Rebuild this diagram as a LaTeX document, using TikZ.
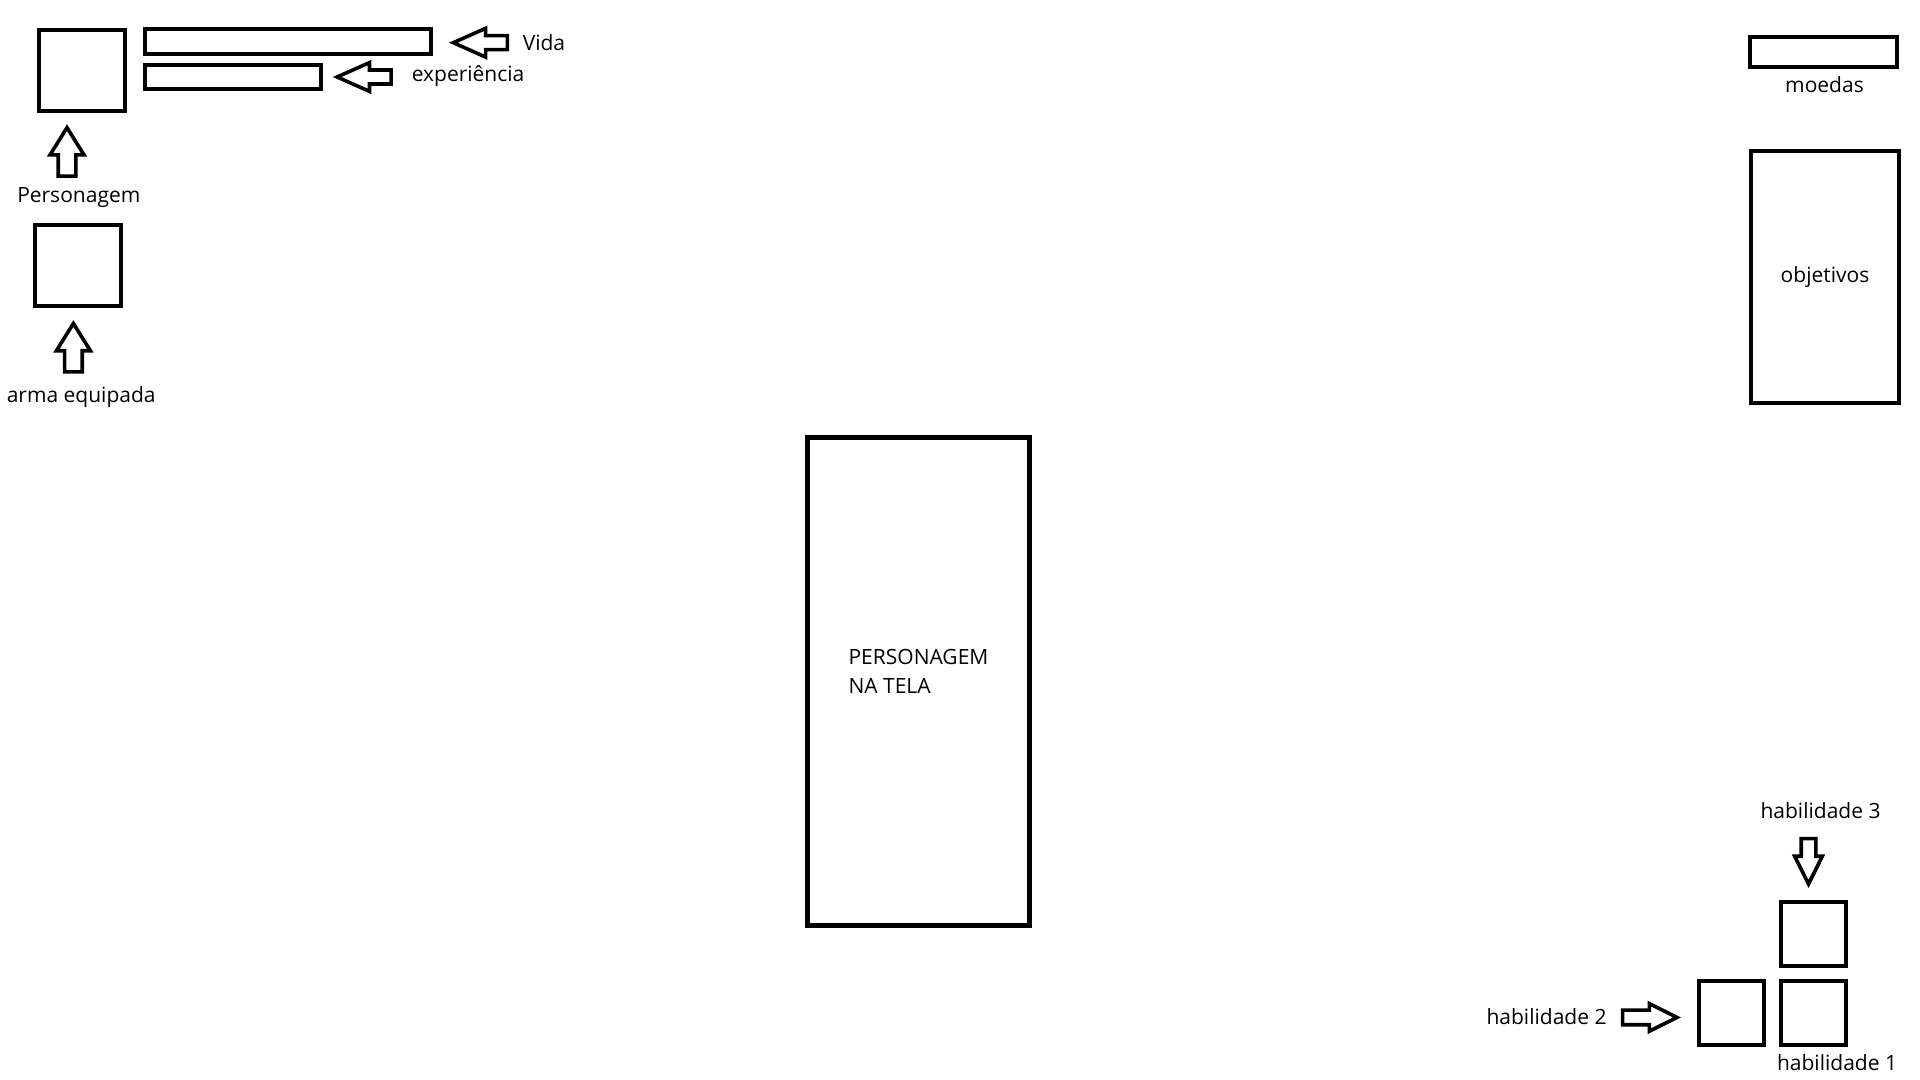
\documentclass[tikz,border=0pt]{standalone}
\usepackage{fontspec}
\setmainfont{Open Sans}
\usetikzlibrary{shapes.arrows,positioning}
\tikzset{
  caixa/.style={draw,line width=2pt,inner sep=0pt,align=left,
    font=\fontsize{10.5}{14.5}\selectfont},
  seta/.style={draw,line width=1.8pt,single arrow,inner xsep=0pt,inner ysep=2.75pt,
    minimum height=24pt,single arrow head extend=3.25pt,single arrow tip angle=53,
    single arrow head indent=0pt,anchor=tip},
  setaH/.style={seta,inner ysep=2.6pt,minimum height=27pt,single arrow head extend=3.7pt,
    single arrow tip angle=48},
  setaV/.style={seta,inner ysep=3.5pt,minimum height=24.2pt,single arrow head extend=4.1pt,
    single arrow tip angle=64},
  txt/.style={inner sep=0pt,font=\fontsize{10.5}{12}\selectfont},
}
\begin{document}
\begin{tikzpicture}[x=0.5pt,y=-0.5pt]
  \useasboundingbox (0,0) rectangle (1920,1080);
  % canto superior esquerdo
  \node[caixa,minimum width=42.7pt,minimum height=40.5pt] (perso) at (82,70.8) {};
  \node[caixa,minimum width=142.7pt,minimum height=12.35pt] (vida) at (288,41.7) {};
  \node[caixa,minimum width=88pt,minimum height=11.7pt] (exp) at (233.3,77) {};
  \node[caixa,minimum width=42.7pt,minimum height=40.5pt] (arma) at (78,265.8) {};
  \node[txt,anchor=west] (vidaTxt) at (522.4,43) {Vida};
  \node[txt,anchor=west] (expTxt) at (411.4,76) {experiência};
  \node[txt] (persoTxt) at (78.8,198) {Personagem};
  \node[txt] (armaTxt) at (81.2,397.3) {arma equipada};
  \node[setaH,rotate=180] (setaVida) at ([shift={(8.1pt,-0.5pt)}]vida.east) {};
  \node[setaH,rotate=180] (setaExp) at ([xshift=4.7pt]exp.east) {};
  \node[setaV,rotate=90] (setaPerso) at ([shift={(-7.5pt,-5.5pt)}]perso.south) {};
  \node[setaV,rotate=90] (setaArma) at ([shift={(-2.3pt,-5.9pt)}]arma.south) {};
  % canto superior direito
  \node[caixa,minimum width=73.5pt,minimum height=15pt] (moedas) at (1823.5,52) {};
  \node[txt] (moedasTxt) at (1824.5,85) {moedas};
  \node[caixa,line width=2.4pt,minimum width=74pt,minimum height=126pt] (obj) at (1825,277) {objetivos};
  % centro
  \node[caixa,line width=2.4pt,minimum width=111pt,minimum height=244pt,text depth=10pt] (tela)
    at (918.5,681.5) {PERSONAGEM\\NA TELA};
  % habilidades
  \node[caixa,minimum width=32.5pt,minimum height=32pt] (hab3) at (1813.5,934) {};
  \node[caixa,minimum width=32.5pt,minimum height=32pt] (hab2) at (1731.5,1013) {};
  \node[caixa,minimum width=32.5pt,minimum height=32pt] (hab1) at (1813.5,1013) {};
  \node[txt] (hab3Txt) at (1820.5,811) {habilidade 3};
  \node[txt] (hab2Txt) at (1546.5,1017) {habilidade 2};
  \node[txt] (hab1Txt) at (1837,1063) {habilidade 1};
  \node[seta,rotate=-90,minimum height=22.7pt] (setaHab3) at ([shift={(-2.5pt,6pt)}]hab3.north) {};
  \node[seta,minimum height=27.2pt] (setaHab2) at ([shift={(-8pt,-2.2pt)}]hab2.west) {};
\end{tikzpicture}
\end{document}
